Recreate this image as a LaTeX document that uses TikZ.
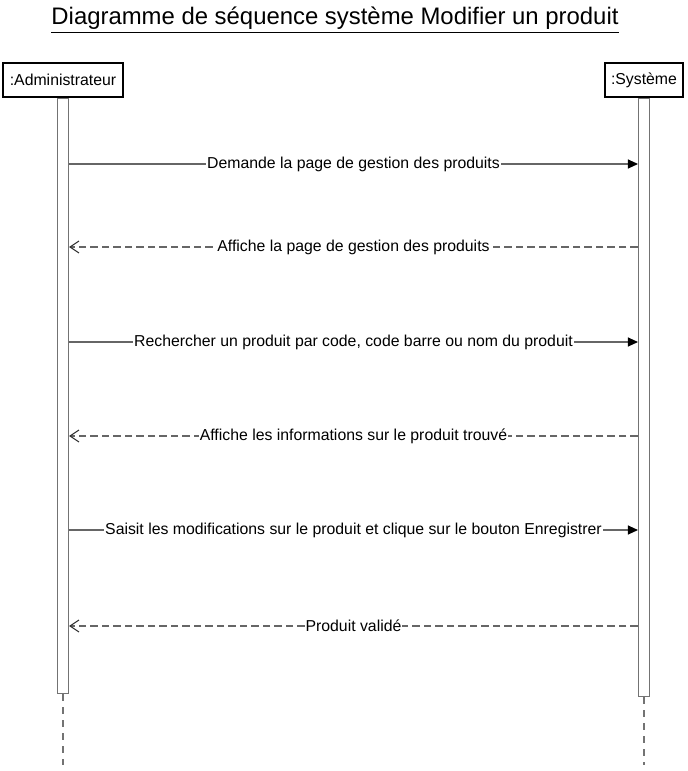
\documentclass[tikz,border=0pt]{standalone}
\usepackage{fontspec}
\setmainfont{Liberation Sans}
\usetikzlibrary{arrows.meta}

\begin{document}
\begin{tikzpicture}[x=0.02cm, y=-0.02cm, font=\fontsize{9}{11}\selectfont, line width=0.6pt,
    actor/.style={rectangle, draw, minimum height=0.68cm, inner sep=1pt},
    bar/.style={rectangle, draw=black!55, fill=white, minimum width=0.22cm, inner sep=0pt, anchor=north},
    life/.style={draw=black!55, dash pattern=on 0.14cm off 0.12cm},
    call/.style={draw=black!60, -{Triangle[length=0.2cm, width=0.18cm, color=black]}},
    reply/.style={draw=black!60, dash pattern=on 0.15cm off 0.08cm, -{Straight Barb[length=0.18cm, width=0.24cm, color=black!80]}},
    lbl/.style={fill=white, inner sep=0.5pt, text=black}]
    \useasboundingbox (0,0) rectangle (687,771);

    \node (t) at (335,20) {\fontsize{13.6}{16}\selectfont\underline{Diagramme de séquence système Modifier un produit}};

    \node (a) at (63,80) [actor, minimum width=2.4cm] {:Administrateur};
    \node (b) at (644,80) [actor, minimum width=1.56cm] {:Système};

    \node (c) at (a.south) [bar, minimum height=11.92cm] {};
    \node (d) at (b.south) [bar, minimum height=11.98cm] {};

    \coordinate (e) at (63,765);
    \coordinate (f) at (644,765);

    \draw [life] (c.south) -- (e);
    \draw [life] (d.south) -- (f);

    \coordinate (m1) at (353,164);
    \coordinate (m2) at (353,247);
    \coordinate (m3) at (353,342);
    \coordinate (m4) at (353,436);
    \coordinate (m5) at (353,530);
    \coordinate (m6) at (353,626);

    \draw [call] (c.east |- m1) -- node [lbl] {Demande la page de gestion des produits} (d.west |- m1);
    \draw [reply] (d.west |- m2) -- node [lbl] {Affiche la page de gestion des produits} (c.east |- m2);
    \draw [call] (c.east |- m3) -- node [lbl] {Rechercher un produit par code, code barre ou nom du produit} (d.west |- m3);
    \draw [reply] (d.west |- m4) -- node [lbl] {Affiche les informations sur le produit trouvé} (c.east |- m4);
    \draw [call] (c.east |- m5) -- node [lbl] {Saisit les modifications sur le produit et clique sur le bouton Enregistrer} (d.west |- m5);
    \draw [reply] (d.west |- m6) -- node [lbl] {Produit validé} (c.east |- m6);
\end{tikzpicture}
\end{document}
